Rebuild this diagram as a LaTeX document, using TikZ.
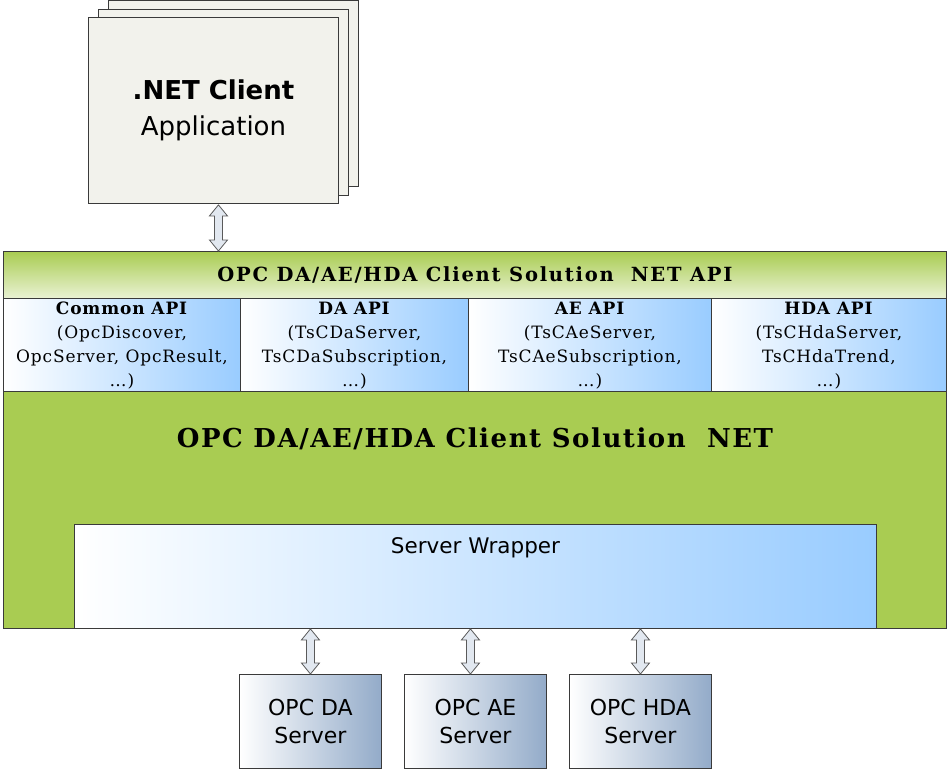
\documentclass[tikz,border=0pt]{standalone}
\usepackage{fontspec}
\setmainfont{DejaVu Serif}
\setsansfont{DejaVu Sans}
\usepackage{xcolor}
\definecolor{cardbg}{HTML}{F2F2EC}
\definecolor{linedark}{HTML}{3A3A3A}
\definecolor{apigreen}{HTML}{A9CC52}
\definecolor{apiblue}{HTML}{99CCFF}
\definecolor{srvblue}{HTML}{93ABC9}
\definecolor{arrowfill}{HTML}{E2E8F0}
\definecolor{arrowline}{HTML}{5A5A5A}
\usepackage{tikz}
\usetikzlibrary{positioning,calc}

\tikzset{
  boxbase/.style={rectangle, draw=linedark, line width=0.9pt, inner sep=0pt, anchor=north west},
  clientcard/.style={boxbase, fill=cardbg, minimum width=250pt, minimum height=186pt},
  apicell/.style={boxbase, left color=white, right color=apiblue, minimum height=93pt},
  srvbox/.style={boxbase, left color=white, right color=srvblue, minimum width=142pt, minimum height=94pt,
    font=\sffamily\fontsize{22}{28}\selectfont, align=center},
  apitext/.style={font=\addfontfeature{LetterSpace=5}\fontsize{17}{24}\selectfont, align=center, inner sep=0pt},
  blockarrow/.style={draw=arrowline, fill=arrowfill, line width=0.8pt, line join=miter}
}
% hollow double block arrow between an upper (#1) and a lower (#2) point
\newcommand{\dblarrow}[2]{%
  \draw[blockarrow] (#1) -- ($(#1)+(9,11)$) -- ($(#1)+(4,11)$) -- ($(#2)+(4,-11)$) -- ($(#2)+(9,-11)$)
    -- (#2) -- ($(#2)+(-9,-11)$) -- ($(#2)+(-4,-11)$) -- ($(#1)+(-4,11)$) -- ($(#1)+(-9,11)$) -- cycle;}

\begin{document}
\begin{tikzpicture}[x=1pt,y=-1pt]
  \useasboundingbox (0,0) rectangle (949,771);
  % client application stack
  \node[clientcard] (clientback) at (108,0) {};
  \node[clientcard] (clientmid) at (98,9) {};
  \node[clientcard, font=\sffamily\fontsize{26}{36}\selectfont, align=center] (client) at (88,17) {\textbf{.NET Client}\\Application};

  % api band
  \node[boxbase, top color=apigreen, bottom color=apigreen!25!white, minimum width=943pt, minimum height=47pt,
    font=\bfseries\addfontfeature{LetterSpace=9}\fontsize{19.5}{22}\selectfont] (apitop) at (3,251) {OPC DA/AE/HDA Client Solution\ \ NET API};
  \node[apicell, minimum width=237pt] (apicommon) at (3,298) {};
  \node[apicell, minimum width=228pt] (apida) at (240,298) {};
  \node[apicell, minimum width=243pt] (apiae) at (468,298) {};
  \node[apicell, minimum width=235pt] (apihda) at (711,298) {};
  \node[apitext] (txtcommon) at ($(apicommon.center)+(0,1)$) {\textbf{Common API}\\(OpcDiscover,\\OpcServer, OpcResult,\\\dots)};
  \node[apitext] (txtda) at ($(apida.center)+(0,1)$) {\textbf{DA API}\\(TsCDaServer,\\TsCDaSubscription,\\\dots)};
  \node[apitext] (txtae) at ($(apiae.center)+(0,1)$) {\textbf{AE API}\\(TsCAeServer,\\TsCAeSubscription,\\\dots)};
  \node[apitext] (txthda) at ($(apihda.center)+(0,1)$) {\textbf{HDA API}\\(TsCHdaServer,\\TsCHdaTrend,\\\dots)};

  % solution body
  \node[boxbase, fill=apigreen, minimum width=943pt, minimum height=237pt] (body) at (3,391) {};
  \node[font=\bfseries\addfontfeature{LetterSpace=6}\fontsize{26}{30}\selectfont, below=33pt of body.north] (bodytitle) {OPC DA/AE/HDA Client Solution\ \ NET};
  \node[boxbase, left color=white, right color=apiblue, minimum width=802pt, minimum height=104pt] (wrapper) at (74,524) {};
  \node[font=\sffamily\fontsize{21.5}{24}\selectfont, below=10pt of wrapper.north] (wraplabel) {Server Wrapper};

  % servers
  \node[srvbox] (srvda) at (239,674) {OPC DA\\Server};
  \node[srvbox] (srvae) at (404,674) {OPC AE\\Server};
  \node[srvbox] (srvhda) at (569,674) {OPC HDA\\Server};

  % double arrows
  \coordinate (clienttip) at ($(client.south)+(5,1)$);
  \dblarrow{clienttip}{apitop.north -| clienttip}
  \dblarrow{wrapper.south -| srvda.north}{srvda.north}
  \coordinate (aetip) at ($(srvae.north)+(-5,0)$);
  \dblarrow{wrapper.south -| aetip}{aetip}
  \dblarrow{wrapper.south -| srvhda.north}{srvhda.north}
\end{tikzpicture}
\end{document}
